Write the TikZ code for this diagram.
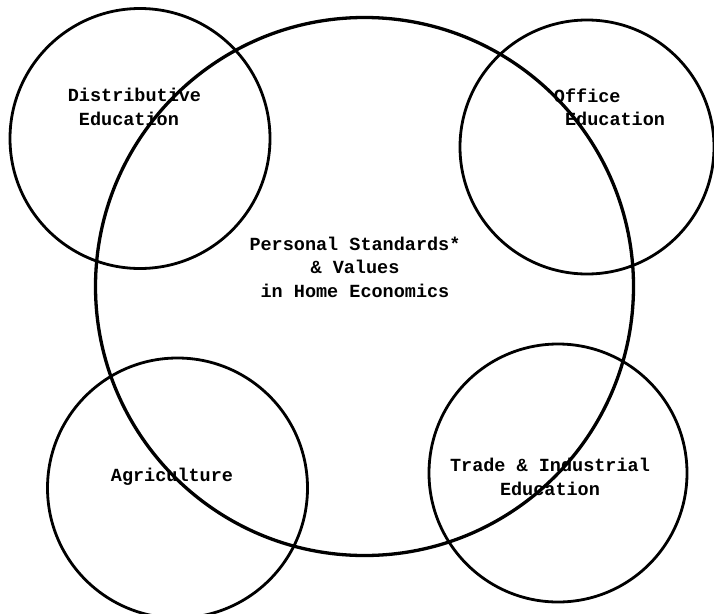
\documentclass[tikz,border=0pt]{standalone}
\usepackage{fontspec}
\setmonofont{Liberation Mono}

\tikzset{x=1pt, y=-1pt,
  node font=\ttfamily\bfseries\fontsize{18.5}{23.5}\selectfont,
  ring/.style={draw, circle, inner sep=0pt, minimum size=#1, line width=2.8pt},
  mainring/.style={ring=#1, line width=3.3pt},
  label text/.style={inner sep=0pt, align=center}}

\begin{document}
\begin{tikzpicture}
    \useasboundingbox (0,0) rectangle (714,613);
    \clip (0,0) rectangle (714,613);
    % the five circles
    \node [mainring=538pt] (home) at (364.5,286.5) {};
    \node [ring=260pt] (dist) at (140,138.5) {};
    \node [ring=254pt] (office) at (587,147) {};
    \node [ring=260pt] (agri) at (177.5,488) {};
    \node [ring=258pt] (trade) at (558,473) {};
    % labels
    \node [label text] (hometext) at (355,267)
      {Personal Standards*\\ \& Values\\ in Home Economics};
    \node [label text, align=left] (disttext) at (134.5,107)
      {Distributive\\\hphantom{D}Education};
    \node [label text, align=left] (officetext) at (609.5,107)
      {Office\\\hphantom{O}Education};
    \node [label text, anchor=base] (agritext) at (172,481) {Agriculture};
    \node [label text] (tradetext) at (550,477)
      {Trade \& Industrial\\ Education};
  \end{tikzpicture}
\end{document}
